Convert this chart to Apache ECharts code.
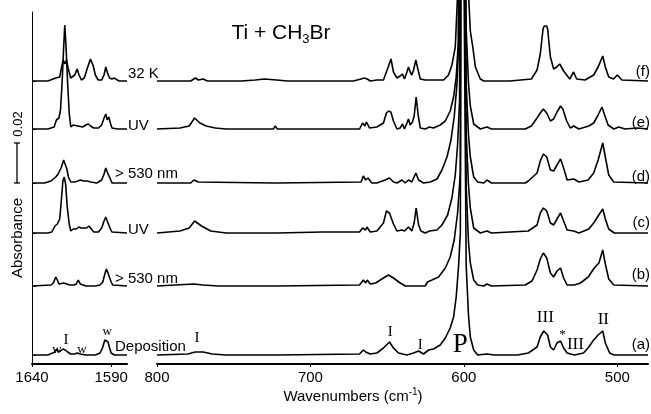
<!DOCTYPE html>
<html>
<head>
<meta charset="utf-8">
<script src="https://cdn.jsdelivr.net/npm/echarts@6/dist/echarts.min.js"></script>
<style>html,body{margin:0;padding:0;background:#fff}#main{width:651px;height:414px}</style>
</head>
<body>
<div id="main"></div>
<script>
// spectra in milli-absorbance above each trace's own baseline, [wavenumber, mAbs]
const aLeft = [[1640,0],[1630,0],[1627,1],[1625.5,1.5],[1624.5,3],[1623.5,1.5],[1622,2],[1620.5,3],[1619,2.5],[1617.5,1.5],[1615.5,0.5],[1613,0.5],[1611.5,1],[1610.5,2],[1609.5,0.5],[1606,0],[1600,0],[1597,1],[1595.5,3.5],[1594,7.5],[1593,8.5],[1592,6.5],[1591,3.5],[1590,1],[1588,0],[1580,0]];
const bLeft = [[1640,0],[1628,0.5],[1626.5,1.5],[1625,4.5],[1624,3],[1623,1],[1620,1.5],[1616,0.5],[1613.5,0.5],[1612,1],[1610.8,3],[1609.5,1],[1606,0],[1600,0],[1597,0.5],[1595.3,2],[1594,6],[1593,8.5],[1592,6.5],[1591,5.5],[1590,2],[1589,0.5],[1580,0]];
const cLeft = [[1640,0],[1630,0],[1627.5,0.5],[1625.5,3.5],[1624,4.5],[1622.5,7],[1621.4,17],[1620.5,26],[1619.6,28],[1618.7,24],[1617.8,13.5],[1616.5,4.5],[1615.5,1],[1614,2],[1613,3],[1612,2],[1610.5,3],[1609,2.5],[1607,2.5],[1605.5,2.5],[1604,3.5],[1603,2.5],[1601,0.5],[1598,0.5],[1596,2.5],[1594.5,6],[1593.4,8],[1592.5,6],[1591.5,5.5],[1590.5,2],[1589.5,0.5],[1580,0]];
const dLeft = [[1640,0],[1632,0],[1628,1],[1625,3],[1623.5,4.5],[1622.5,4],[1621.4,8],[1620,11.5],[1619,10.5],[1618,7],[1617,3],[1615.5,0.5],[1613,0.5],[1611,1],[1609.5,1.5],[1608.5,2],[1607.5,1],[1605,1],[1603,0.5],[1599,0],[1596,1.5],[1594.5,4.5],[1593.4,7.5],[1592.5,5.5],[1591.5,6],[1590.5,2],[1589.5,0],[1580,0]];
const eLeft = [[1640,0],[1630,0],[1626,1],[1624.6,4.5],[1623,5.5],[1622,9.5],[1621,23],[1620,41],[1619.3,52],[1618.5,41],[1617.5,23],[1616.5,8],[1615.5,1],[1614,2],[1613,2.5],[1611,1.5],[1610,2],[1608,1],[1606,2],[1604.5,2.5],[1603,1.5],[1601,0.5],[1598,0.5],[1596,2],[1594.5,5.5],[1593.4,7.5],[1592.5,4.5],[1591.5,6],[1590.5,3],[1589.5,0.5],[1586,0],[1580,0]];
const fLeft = [[1640,0],[1630,0],[1625,1.5],[1622.5,2],[1621.4,6.5],[1620.3,10.5],[1619.3,8.5],[1618.2,10.5],[1617.2,6.5],[1615.6,1.5],[1614.5,0.5],[1613,3],[1611.5,6],[1610.3,3],[1608.8,0.5],[1607,1.5],[1605,6.5],[1603.1,11],[1601.5,8],[1600,3],[1598.2,0.5],[1596,0.5],[1594.5,3],[1593.4,7],[1592.3,4],[1591,1.5],[1589.5,1],[1588.2,1.5],[1587,0.5],[1585,0],[1580,0]];

const aRight = [[800,0],[780,0.5],[775,1.5],[770,1.5],[764,0.5],[755,0],[724,0],[723,1],[722,0],[668,0.5],[665.5,2.5],[664,1.5],[663,2],[661,0.5],[656.7,1],[652.4,3.5],[648.5,6.5],[645.9,3.5],[642.6,1],[637.1,0],[632.8,1],[629.5,2],[626.3,0.5],[623,2.5],[619.8,3],[615.4,5],[612.1,8.5],[608.9,13.5],[606.7,19],[605,29],[603.5,44],[602.3,61],[601.5,350],[598.5,45],[597,20],[595.8,9],[593.6,2.5],[591,0],[585,0.5],[580,0],[565,0],[558,1],[552.3,4],[550.2,9],[548,12],[545.4,10],[543.6,4],[541.5,2.5],[539.3,6],[537,7],[535,3.5],[532.7,1],[528,0],[522,1],[518.6,4],[515.4,7.5],[512.5,10],[509.5,12],[507.8,6],[505,1],[502,0],[480,0]];
const bRight = [[800,0],[776,1],[770,0.5],[760,0],[724,0],[723,1],[722,0],[668,0.5],[665.5,3],[664,1.5],[663,3],[661,1],[657.5,1.5],[652.4,4],[649.1,5.5],[645.9,4],[641.5,1.5],[638.2,0],[632.8,0],[625.2,0],[623.7,2],[620.8,3],[616.5,4.5],[612.1,9],[608.9,14.5],[606.3,23],[604.1,36.5],[602.3,56.5],[601.5,350],[598.5,50],[597,22],[595.8,11.5],[593.6,3],[591,0.5],[587,0],[585,1],[582,0],[560,0.5],[555.6,2.5],[552.3,8],[550.2,13.5],[548.2,16.5],[546,14],[543.6,6.5],[541.5,4.5],[539.3,7.5],[537,9],[535,4],[532.7,0.5],[528,0.5],[524,1.5],[519,4.5],[515,9],[512,11.5],[509.5,18],[507.8,11],[505.6,3.5],[502.3,0.5],[480,0]];
const cRight = [[800,0],[785,1],[779,2.5],[775.5,6],[771,3.5],[765,1],[755,0],[724,0],[723,1],[721.5,0],[692,0.5],[668,0.5],[666,2.5],[665,3.5],[664,1.5],[663.2,3],[661,0.5],[656.7,1],[652.4,5],[650.5,11],[648.5,10],[645.9,4.5],[643.6,1],[640.4,1.5],[638.7,1],[636.1,3],[633.9,1],[632.4,5],[631.1,12.5],[629.5,4],[628,1],[625.2,0],[622.4,1],[617.5,1.5],[614.3,4],[610.6,9],[607.8,17.5],[605.6,29],[604.1,44],[602.8,66],[601.5,350],[598.5,50],[597,24],[595.8,12.5],[593.6,2.5],[589.3,0],[585,1],[582,0],[558,1],[552.3,4],[550.2,10],[548.2,12.5],[546,11],[543.6,5],[541.5,4],[539.3,7],[537,10],[535,6],[532.7,1.5],[528.4,1],[525,0],[518.6,2],[515.4,5],[512.5,8.5],[509.5,12],[507.8,7],[505.6,2],[502,0],[480,0]];
const dRight = [[800,0],[778,0],[776,1.5],[773,0.5],[724,0],[723,0.5],[722,0],[667,0.5],[665.5,3.5],[664,1.5],[662.5,2.5],[660,0],[656.7,0],[651.3,1.5],[648.5,2.5],[645.9,0.5],[643.6,0],[640.4,1.5],[638.2,0],[636.1,1.5],[633.9,0.5],[631.3,5],[629.5,1.5],[626.3,0],[621.9,0.5],[617.5,2],[614.3,6.5],[611,13],[608.4,21.5],[606.3,33],[604.5,49.5],[603.3,71.5],[601.5,350],[598.5,50],[597,24],[595.8,13],[593.6,3],[591,0.5],[587,0],[585,1.5],[582,0],[560,0],[558,1],[552.3,5],[550.2,11],[548.2,14.5],[546,13],[543.6,6.5],[541.5,6],[539.3,9],[537,12],[535,7.5],[532.7,1.5],[528.4,2],[525,0.5],[519,1.5],[515.4,5],[512.5,11.5],[509.5,20],[507.8,13],[505.6,4],[502.3,0.5],[480,0]];
const eRight = [[800,0],[785,0.5],[779,1.5],[775.5,5.5],[772,3],[768,1.5],[762,0.5],[755,0],[724,0],[723,1.5],[721.5,0],[668,0],[666,3],[664.5,1.5],[663.5,3.5],[661.5,0.5],[656.7,1],[652.4,3],[650.5,8],[649.1,9],[647.6,8.5],[645.9,4],[643.6,0],[641.5,0.5],[640,2.5],[638.7,0],[637.1,3],[636.1,5],[635,2],[633.5,3.5],[632.4,6.5],[631.1,16],[629.7,6.5],[628.4,0.5],[625.2,0],[622.4,1],[619.8,0.5],[615.4,2],[612.1,4],[608.9,9],[606.7,16],[605,26],[603.7,42.5],[601.5,350],[598.5,50],[597,23],[595.8,11.5],[593.6,2.5],[589.3,0],[585,1],[582,0],[560,0],[556,1.5],[552.3,5.5],[550.2,8],[548.2,10],[546,8],[543.6,4],[541.5,5],[539.3,8.5],[537,11.5],[535.5,10],[533,4],[530.6,0.5],[528.4,1.5],[525,0],[518.6,1.5],[515.4,3],[512.5,7],[510,11],[508.5,7.5],[506,2],[502.3,0],[499,1],[495,0],[487,0.5],[480,0]];
const fRight = [[800,0],[778,0],[775,1.5],[773,0.5],[770,1],[767,0],[745,0],[736,0.5],[730,1],[722,0.5],[715,0],[672,0],[667,1],[665,1.5],[663,1],[661,0],[656.7,0.5],[652.4,0.5],[650.5,4.5],[647.5,11],[645.9,4.5],[643.6,1.5],[641.5,2.5],[640,3.5],[638.7,1],[637.1,4.5],[636.1,7],[635,4.5],[633.9,3],[632.8,5.5],[631.3,10.5],[630,6],[628.4,1],[625.2,0.5],[619.8,0.5],[613.2,0.5],[610,3],[607.8,8],[605.6,17],[604,45],[601.5,350],[598,60],[595.8,25],[594.2,17],[592.5,7],[589.3,1],[587,0],[570,0],[556,1],[552.3,5.5],[550.2,13.5],[548.4,26],[547.6,27.5],[546.8,26.5],[546,27.5],[545.4,26],[543.6,12],[541.5,6],[539.5,7],[537.5,8.5],[535,5],[531,1],[528.5,4.5],[526.5,1],[521,0.5],[515.4,3],[512.5,7],[509.5,12.5],[507.8,7],[505.6,2],[502.5,1],[500,3],[497,0.5],[480,0]];

// trace order a..f, bottom to top
const offsets = [4.5, 39, 65.5, 90.5, 117.5, 141.5];
const leftSpectra = [aLeft, bLeft, cLeft, dLeft, eLeft, fLeft];
const rightSpectra = [aRight, bRight, cRight, dRight, eRight, fRight];
const traceNames = ['Deposition', '> 530 nm', 'UV', '> 530 nm', 'UV', '32 K'];
const traceTags = ['(a)', '(b)', '(c)', '(d)', '(e)', '(f)'];

const leftTicks = [1640, 1590];
const rightTicks = [800, 700, 600, 500];

// band assignments: panel (0 left, 1 right), wavenumber, height (mAbs on axis)
const annoText = ['w', 'I', 'w', 'w', 'I', 'I', 'I', 'P', 'III', '*', 'III', 'II'];
const annoPanel = [0, 0, 0, 0, 1, 1, 1, 1, 1, 1, 1, 1];
const annoWn = [1624.2, 1618.5, 1608.4, 1592.5, 773.9, 648, 628.4, 602.3, 546.9, 535.8, 527.3, 509.1];
const annoAbs = [7, 12, 7, 16, 13, 16, 9.5, 9.5, 23, 14.5, 9.5, 22];
const annoSize = [13, 15, 13, 13, 15, 15, 15, 27, 17, 13, 17, 17];

const SANS = '"Liberation Sans", Arial, sans-serif';
const SERIF = '"Liberation Serif", "Times New Roman", serif';

const myChart = echarts.init(document.getElementById('main'));

function shift(pts, off) {
	return pts.map(function (p) { return [p[0], p[1] + off]; });
}

const series = [];
offsets.forEach(function (off, i) {
	series.push({
		type: 'line', xAxisIndex: 0, yAxisIndex: 0, showSymbol: false, silent: true,
		data: shift(leftSpectra[i], off),
		lineStyle: { color: '#000', width: 1.6 }
	});
	series.push({
		type: 'line', xAxisIndex: 1, yAxisIndex: 1, showSymbol: false, silent: true, clip: false,
		data: shift(rightSpectra[i], off),
		lineStyle: { color: '#000', width: 1.6 }
	});
});

const axisText = {
	color: '#000', fontSize: 15, fontFamily: SANS, margin: 6,
	formatter: function (v) { return String(v); }
};

option = {
	animation: false,
	backgroundColor: '#fff',
	grid: [
		{ left: 32, width: 95, top: 12, bottom: 50 },
		{ left: 157, right: 3, top: 12, bottom: 50 }
	],
	xAxis: [
		{
			gridIndex: 0, type: 'value', min: 1580, max: 1640, inverse: true,
			axisLine: { lineStyle: { color: '#000', width: 2 } },
			axisTick: { customValues: leftTicks, length: 3, lineStyle: { color: '#000' } },
			axisLabel: Object.assign({ customValues: leftTicks }, axisText),
			splitLine: { show: false }
		},
		{
			gridIndex: 1, type: 'value', min: 480, max: 800, inverse: true,
			axisLine: { lineStyle: { color: '#000', width: 2 } },
			axisTick: { customValues: rightTicks, length: 3, lineStyle: { color: '#000' } },
			axisLabel: Object.assign({ customValues: rightTicks }, axisText),
			splitLine: { show: false }
		}
	],
	yAxis: [
		{
			gridIndex: 0, type: 'value', min: 0, max: 176,
			axisLine: { show: true, lineStyle: { color: '#000', width: 1 } },
			axisTick: { show: true, inside: true, length: 4, customValues: offsets, lineStyle: { color: '#000' } },
			axisLabel: { show: false },
			splitLine: { show: false }
		},
		{ gridIndex: 1, type: 'value', min: 0, max: 176, show: false }
	],
	series: series
};

myChart.setOption(option);

// texts and scale bar
const g = [];
g.push({
	type: 'text', x: 281, y: 33,
	style: {
		text: '{a|Ti + CH}{s|3}{a|Br}', align: 'center', verticalAlign: 'middle',
		rich: {
			a: { fontSize: 21, fontFamily: SANS, fill: '#000', lineHeight: 26, verticalAlign: 'middle' },
			s: { fontSize: 13, fontFamily: SANS, fill: '#000', lineHeight: 10, verticalAlign: 'bottom' }
		}
	}
});
g.push({
	type: 'text', x: 353, y: 397,
	style: {
		text: '{a|Wavenumbers (cm}{s|-1}{a|)}', align: 'center', verticalAlign: 'middle',
		rich: {
			a: { fontSize: 15, fontFamily: SANS, fill: '#000', lineHeight: 20, verticalAlign: 'middle' },
			s: { fontSize: 10, fontFamily: SANS, fill: '#000', lineHeight: 10, verticalAlign: 'top' }
		}
	}
});
g.push({
	type: 'text', x: 18, y: 238, rotation: Math.PI / 2,
	style: { text: 'Absorbance', fontSize: 15, fontFamily: SANS, fill: '#000', align: 'center', verticalAlign: 'middle' }
});
g.push({
	type: 'text', x: 18, y: 124, rotation: Math.PI / 2,
	style: { text: '0.02', fontSize: 13, fontFamily: SANS, fill: '#000', align: 'center', verticalAlign: 'middle' }
});
// scale bar = 0.02 absorbance = 20 mAbs
const barLen = myChart.convertToPixel({ gridIndex: 0 }, [1640, 0])[1] - myChart.convertToPixel({ gridIndex: 0 }, [1640, 20])[1];
const barMid = 163;
[[17, barMid - barLen / 2, 17, barMid + barLen / 2], [14, barMid - barLen / 2, 20, barMid - barLen / 2], [14, barMid + barLen / 2, 20, barMid + barLen / 2]].forEach(function (l) {
	g.push({ type: 'line', shape: { x1: l[0], y1: l[1], x2: l[2], y2: l[3] }, style: { stroke: '#000', lineWidth: 1.3 } });
});

// trace names between the panels and tags at the right
const nameX = [115, 115, 128, 115, 128, 128];
const nameDy = [-8, -7, -3, -9, -3, -7];
const tagDy = [-10, -11, -10, -6, -6, -9];
offsets.forEach(function (off, i) {
	const yb = myChart.convertToPixel({ gridIndex: 0 }, [1640, off])[1];
	g.push({
		type: 'text', x: nameX[i], y: yb + nameDy[i],
		style: { text: traceNames[i], fontSize: 15, fontFamily: SANS, fill: '#000', align: 'left', verticalAlign: 'middle' }
	});
	g.push({
		type: 'text', x: 650, y: yb + tagDy[i],
		style: { text: traceTags[i], fontSize: 15, fontFamily: SANS, fill: '#000', align: 'right', verticalAlign: 'middle' }
	});
});

annoText.forEach(function (t, i) {
	const p = myChart.convertToPixel({ gridIndex: annoPanel[i] }, [annoWn[i], annoAbs[i]]);
	g.push({
		type: 'text', x: p[0], y: p[1],
		style: { text: t, fontSize: annoSize[i], fontFamily: SERIF, fill: '#000', align: 'center', verticalAlign: 'middle' }
	});
});

myChart.setOption({ graphic: g });
</script>
</body>
</html>
